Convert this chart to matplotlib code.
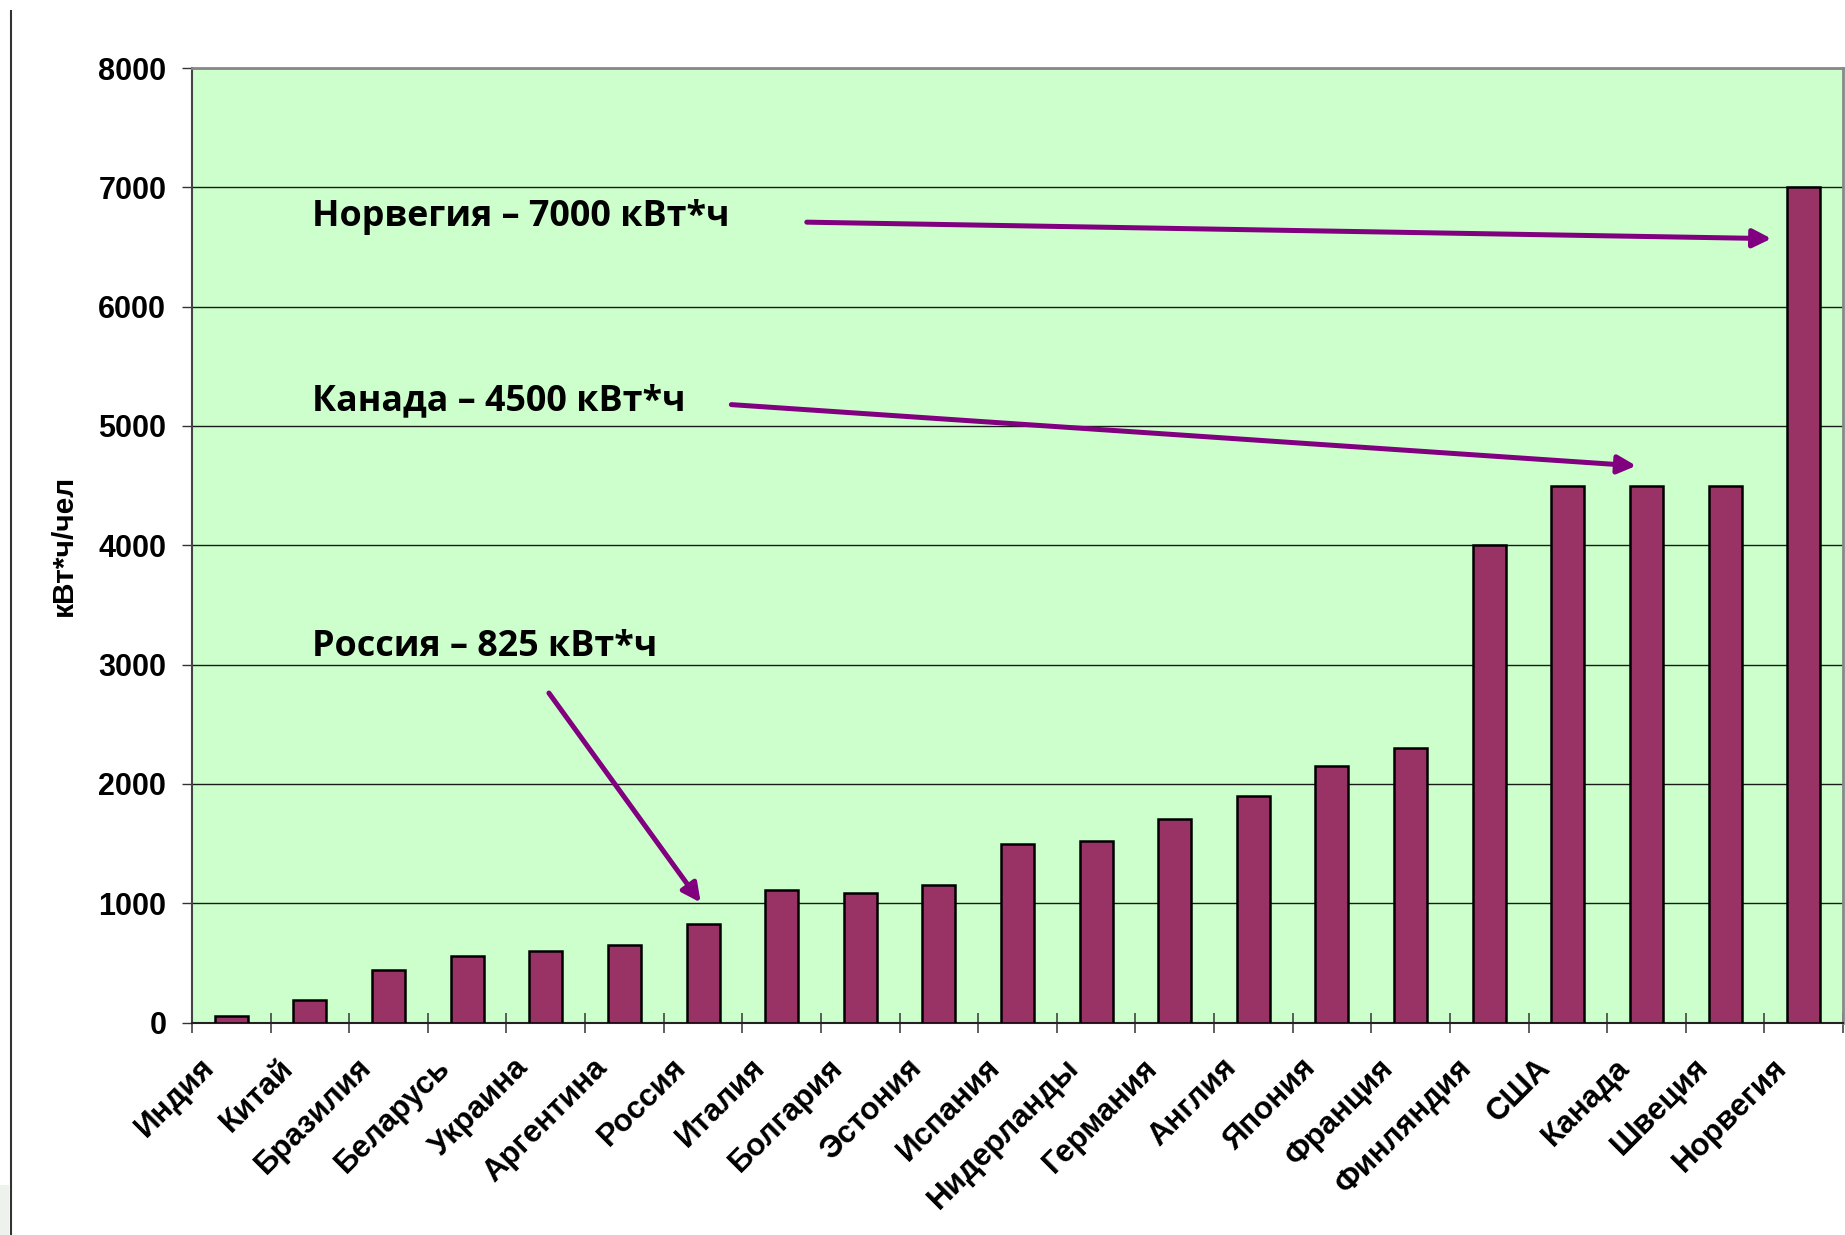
import matplotlib
matplotlib.use("Agg")
import matplotlib.pyplot as plt
from matplotlib.lines import Line2D
from matplotlib.patches import Rectangle
from matplotlib.ticker import FixedLocator
import matplotlib.transforms as mtransforms

countries = ["Индия", "Китай", "Бразилия", "Беларусь", "Украина", "Аргентина",
             "Россия", "Италия", "Болгария", "Эстония", "Испания", "Нидерланды",
             "Германия", "Англия", "Япония", "Франция", "Финляндия", "США",
             "Канада", "Швеция", "Норвегия"]
values = [55, 190, 440, 560, 600, 650, 825, 1110, 1090, 1150, 1500, 1520,
          1710, 1900, 2150, 2300, 4000, 4500, 4500, 4500, 7000]
y_ticks = [0, 1000, 2000, 3000, 4000, 5000, 6000, 7000, 8000]
y_label = "кВт*ч/чел"

notes = ["Норвегия – 7000 кВт*ч", "Канада – 4500 кВт*ч", "Россия – 825 кВт*ч"]
note_xy = [(1.02, 6750), (1.02, 5210), (1.02, 3150)]
arrow_from = [(7.32, 6708), (6.36, 5179), (4.04, 2762)]
arrow_to = [(19.59, 6570), (17.87, 4666), (5.97, 1006)]

W, H = 1845, 1235
fig = plt.figure(figsize=(W / 100, H / 100), dpi=100)
fig.patch.set_facecolor("white")
ax = fig.add_axes([192 / W, 1 - 1022.6 / H, (1843 - 192) / W, (1022.6 - 68) / H])
ax.set_facecolor("#CCFFCC")

x = list(range(len(countries)))
ax.bar(x, values, width=0.42, color="#993366", edgecolor="black", linewidth=1.8, zorder=3)

ax.set_xlim(-0.5, len(countries) - 0.5)
ax.set_ylim(0, 8000)
ax.set_yticks(y_ticks)
ax.set_yticklabels([str(v) for v in y_ticks])
ax.yaxis.grid(True, color="#1a1a1a", linewidth=1.0, zorder=1)
ax.set_axisbelow(True)

for lab in ax.get_yticklabels():
    lab.set_fontfamily("Liberation Sans")
    lab.set_fontweight("bold")
    lab.set_fontsize(22)
ax.tick_params(axis="y", direction="out", length=7.5, width=1.0, pad=11, color="#333333")

ax.set_xticks(x)
ax.set_xticklabels(countries)
ax.xaxis.set_minor_locator(FixedLocator([i - 0.5 for i in range(len(countries) + 1)]))
ax.tick_params(axis="x", which="major", length=0, pad=0)
ax.tick_params(axis="x", which="minor", direction="inout", length=14, width=1.2, color="#444444")
offset = mtransforms.ScaledTranslation(-0.32, -0.30, fig.dpi_scale_trans)
for lab in ax.get_xticklabels():
    lab.set_fontfamily("Liberation Sans")
    lab.set_fontweight("bold")
    lab.set_fontsize(22.5)
    lab.set_rotation(45)
    lab.set_ha("right")
    lab.set_va("top")
    lab.set_rotation_mode("anchor")
    lab.set_transform(lab.get_transform() + offset)

ax.set_ylabel(y_label, fontfamily="Liberation Sans", fontweight="bold", fontsize=21.5, labelpad=0)
ax.yaxis.set_label_coords((78 - 192) / (1843 - 192), 0.5)

for side in ["top", "right"]:
    ax.spines[side].set_color("#888888")
    ax.spines[side].set_linewidth(2.0)
ax.spines["left"].set_color("#444444")
ax.spines["left"].set_linewidth(1.5)
ax.spines["bottom"].set_color("#222222")
ax.spines["bottom"].set_linewidth(1.5)

for txt, (tx, ty) in zip(notes, note_xy):
    ax.text(tx, ty, txt, fontfamily="Open Sans", fontweight="bold", fontsize=25.8,
            ha="left", va="center", zorder=5)
for (x0, y0), (x1, y1) in zip(arrow_from, arrow_to):
    ax.annotate("", xy=(x1, y1), xytext=(x0, y0),
                arrowprops=dict(arrowstyle="-|>,head_length=1.1,head_width=0.55",
                                color="#800080", lw=3.6, shrinkA=0, shrinkB=0),
                zorder=6)

fig.add_artist(Line2D([10.5 / W, 10.5 / W], [0, 1 - 11 / H], transform=fig.transFigure,
                      color="#333333", linewidth=1.5))
fig.add_artist(Rectangle((0, 0), 9 / W, 50 / H, transform=fig.transFigure,
                         facecolor="#EEF2EC", edgecolor="none"))

fig.savefig("out.png", dpi=100, facecolor="white")
